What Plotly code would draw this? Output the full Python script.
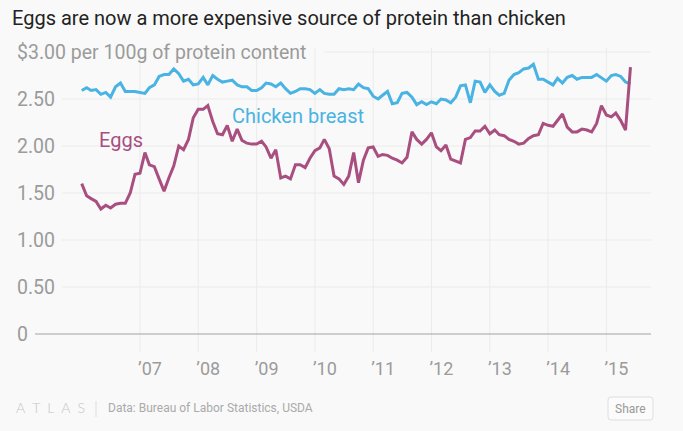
import re
import pandas as pd
import plotly.graph_objects as go

# ---------------- data ----------------
months = pd.date_range("2006-01-01", periods=114, freq="MS")

chicken = [2.59, 2.62, 2.59, 2.60, 2.55, 2.57, 2.52, 2.63, 2.67, 2.58,
           2.58, 2.58, 2.57, 2.56, 2.62, 2.65, 2.74, 2.76, 2.76, 2.82,
           2.77, 2.69, 2.71, 2.65, 2.66, 2.73, 2.65, 2.75, 2.71, 2.68,
           2.69, 2.70, 2.65, 2.63, 2.63, 2.59, 2.59, 2.62, 2.67, 2.66,
           2.63, 2.67, 2.61, 2.56, 2.58, 2.61, 2.61, 2.60, 2.56, 2.60,
           2.56, 2.55, 2.55, 2.61, 2.60, 2.61, 2.60, 2.66, 2.62, 2.61,
           2.53, 2.50, 2.54, 2.58, 2.45, 2.46, 2.56, 2.57, 2.52, 2.44,
           2.47, 2.44, 2.47, 2.45, 2.50, 2.49, 2.46, 2.52, 2.64, 2.65,
           2.46, 2.69, 2.68, 2.57, 2.65, 2.58, 2.54, 2.56, 2.70, 2.76,
           2.78, 2.82, 2.83, 2.87, 2.71, 2.71, 2.68, 2.65, 2.72, 2.67,
           2.73, 2.75, 2.71, 2.73, 2.73, 2.73, 2.76, 2.73, 2.69, 2.75,
           2.76, 2.74, 2.68, 2.66]

eggs = [1.60, 1.47, 1.44, 1.41, 1.33, 1.37, 1.34, 1.38, 1.39, 1.39,
        1.50, 1.70, 1.71, 1.93, 1.80, 1.78, 1.65, 1.52, 1.66, 1.79,
        2.00, 1.96, 2.07, 2.30, 2.39, 2.39, 2.43, 2.26, 2.13, 2.12,
        2.22, 2.05, 2.18, 2.06, 2.03, 2.02, 2.02, 2.05, 1.99, 1.87,
        1.96, 1.66, 1.68, 1.65, 1.80, 1.80, 1.77, 1.87, 1.95, 1.98,
        2.07, 1.97, 1.68, 1.65, 1.59, 1.68, 1.93, 1.61, 1.85, 1.98,
        1.99, 1.89, 1.91, 1.90, 1.87, 1.85, 1.82, 1.88, 2.15, 2.07,
        2.02, 2.07, 2.14, 1.99, 1.95, 2.01, 1.86, 1.84, 1.82, 2.07,
        2.09, 2.16, 2.16, 2.21, 2.13, 2.17, 2.12, 2.11, 2.07, 2.05,
        2.02, 2.03, 2.08, 2.11, 2.12, 2.24, 2.22, 2.21, 2.27, 2.34,
        2.20, 2.15, 2.15, 2.18, 2.17, 2.15, 2.24, 2.43, 2.33, 2.31,
        2.35, 2.27, 2.17, 2.84]

x_tick_years = [2007, 2008, 2009, 2010, 2011, 2012, 2013, 2014, 2015]
x_tick_labels = ["\u201907", "\u201908", "\u201909", "\u201910", "\u201911",
                 "\u201912", "\u201913", "\u201914", "\u201915"]
y_tick_vals = [0, 0.5, 1.0, 1.5, 2.0, 2.5, 3.0]
y_tick_labels = ["0", "0.50", "1.00", "1.50", "2.00", "2.50",
                 "$3.00 per 100g of protein content"]

# ---------------- styling / layout ----------------
W, H = 683, 431
PL, PR = 14, 651          # plot area pixel edges
PT, PB = 36, 352
GRID_TOP = 48             # vertical gridlines start here (px)
ZERO_PX = 334             # pixel of value 0
PX_PER_UNIT = 94.0
BG = "#f9f9f9"
EGG_C = "#a84f80"
CHK_C = "#49b3e3"
GRID_C = "#ebebeb"
TICK_C = "#9b9b9b"

px_per_year = 58.3
anchor = pd.Timestamp("2006-01-01")
start = anchor - pd.Timedelta(days=365.25 * (81.7 - PL) / px_per_year)
end = anchor + pd.Timedelta(days=365.25 * (PR - 81.7) / px_per_year)
y_lo = (ZERO_PX - PB) / PX_PER_UNIT
y_hi = (ZERO_PX - PT) / PX_PER_UNIT


def px2paper(px):
    return (px - PL) / (PR - PL)


def py2paper(py):
    return (PB - py) / (PB - PT)


fig = go.Figure()
# chicken on the main (x, y) subplot
fig.add_trace(go.Scatter(x=months, y=chicken, mode="lines", xaxis="x", yaxis="y",
                         line=dict(color=CHK_C, width=3), hoverinfo="skip",
                         showlegend=False))
# eggs on (x, y2): y2 carries the value labels drawn inside the plot
fig.add_trace(go.Scatter(x=months, y=eggs, mode="lines", xaxis="x", yaxis="y2",
                         line=dict(color=EGG_C, width=3), hoverinfo="skip",
                         showlegend=False))
# empty carrier so the year-label axis x2 has its own (x2, y) subplot
fig.add_trace(go.Scatter(x=[], y=[], mode="lines", xaxis="x2", yaxis="y",
                         hoverinfo="skip", showlegend=False))

shapes = []
for yr in x_tick_years:
    d = pd.Timestamp(f"{yr}-01-01")
    shapes.append(dict(type="line", xref="x", yref="paper", x0=d, x1=d,
                       y0=0, y1=py2paper(GRID_TOP),
                       line=dict(color=GRID_C, width=1), layer="below"))
for v in y_tick_vals:
    if v == 0:
        x0, col = px2paper(35), "#a3a3a3"
    elif v == 3.0:
        x0, col = px2paper(324), GRID_C
    else:
        x0, col = px2paper(62), GRID_C
    shapes.append(dict(type="line", xref="paper", yref="y", x0=x0, x1=1,
                       y0=v, y1=v, line=dict(color=col, width=1), layer="below"))
shapes.append(dict(type="line", xref="paper", yref="paper",
                   x0=px2paper(96), x1=px2paper(96),
                   y0=py2paper(401), y1=py2paper(417),
                   line=dict(color="#dddddd", width=1)))

bx0, bx1, by0, by1, r = 608, 653, 397, 420, 3
path = (f"M {bx0 + r},{by0} L {bx1 - r},{by0} Q {bx1},{by0} {bx1},{by0 + r} "
        f"L {bx1},{by1 - r} Q {bx1},{by1} {bx1 - r},{by1} L {bx0 + r},{by1} "
        f"Q {bx0},{by1} {bx0},{by1 - r} L {bx0},{by0 + r} Q {bx0},{by0} {bx0 + r},{by0} Z")


def conv_path(p):
    out = []
    for t in re.split(r"(\s+)", p):
        if "," in t:
            a, b = t.split(",")
            out.append(f"{px2paper(float(a)):.5f},{py2paper(float(b)):.5f}")
        else:
            out.append(t)
    return "".join(out)


shapes.append(dict(type="path", xref="paper", yref="paper", path=conv_path(path),
                   line=dict(color="#dedede", width=1), fillcolor="#fbfbfb"))

annotations = [
    dict(x=pd.Timestamp("2006-09-05"), y=2.06, xref="x", yref="y",
         text="Eggs", showarrow=False,
         font=dict(size=20, color=EGG_C, family="Roboto")),
    dict(x=pd.Timestamp("2009-09-20"), y=2.32, xref="x", yref="y",
         text="Chicken breast", showarrow=False,
         font=dict(size=20, color=CHK_C, family="Roboto")),
    dict(x=px2paper(14), y=py2paper(407), xref="paper", yref="paper",
         xanchor="left", yanchor="middle",
         text="A\u2002T\u2002L\u2002A\u2002S", showarrow=False,
         font=dict(size=14, color="#c6c6c6", family="Lato", weight=300)),
    dict(x=px2paper(106), y=py2paper(408), xref="paper", yref="paper",
         xanchor="left", yanchor="middle",
         text="Data: Bureau of Labor Statistics, USDA", showarrow=False,
         font=dict(size=12, color="#aaaaaa", family="Roboto")),
    dict(x=px2paper(630.5), y=py2paper(408.5), xref="paper", yref="paper",
         xanchor="center", yanchor="middle", text="Share", showarrow=False,
         font=dict(size=12, color="#999999", family="Roboto")),
]

xticks = [pd.Timestamp(f"{y}-01-01") for y in x_tick_years]

fig.update_layout(
    width=W, height=H,
    margin=dict(l=PL, r=W - PR, t=PT, b=H - PB, pad=0),
    paper_bgcolor=BG, plot_bgcolor=BG,
    font=dict(family="Roboto", color=TICK_C),
    title=dict(text="Eggs are now a more expensive source of protein than chicken",
               x=12 / W, xanchor="left", xref="container",
               y=1 - 18 / H, yanchor="middle",
               font=dict(size=20, color="#222222", family="Roboto")),
    xaxis=dict(type="date", range=[start, end], showticklabels=False,
               showgrid=False, zeroline=False, showline=False, ticks=""),
    xaxis2=dict(type="date", range=[start, end], overlaying="x", anchor="y",
                side="bottom", tickvals=xticks, ticktext=x_tick_labels,
                showgrid=False, zeroline=False, showline=False, ticks="",
                ticklabelshift=10, ticklabelstandoff=4,
                tickfont=dict(size=18, color=TICK_C, family="Roboto")),
    yaxis=dict(range=[y_lo, y_hi], showticklabels=False,
               showgrid=False, zeroline=False, showline=False, ticks=""),
    yaxis2=dict(range=[y_lo, y_hi], overlaying="y", anchor="x",
                side="left", tickvals=y_tick_vals, ticktext=y_tick_labels,
                showgrid=False, zeroline=False, showline=False, ticks="",
                ticklabelposition="inside",
                tickfont=dict(size=19.5, color=TICK_C, family="Roboto")),
    shapes=shapes, annotations=annotations,
)

fig.write_html("out.html", config={"displayModeBar": False},
               post_script="document.body.style.margin='0';"
                           "document.body.style.background='%s';" % BG)
